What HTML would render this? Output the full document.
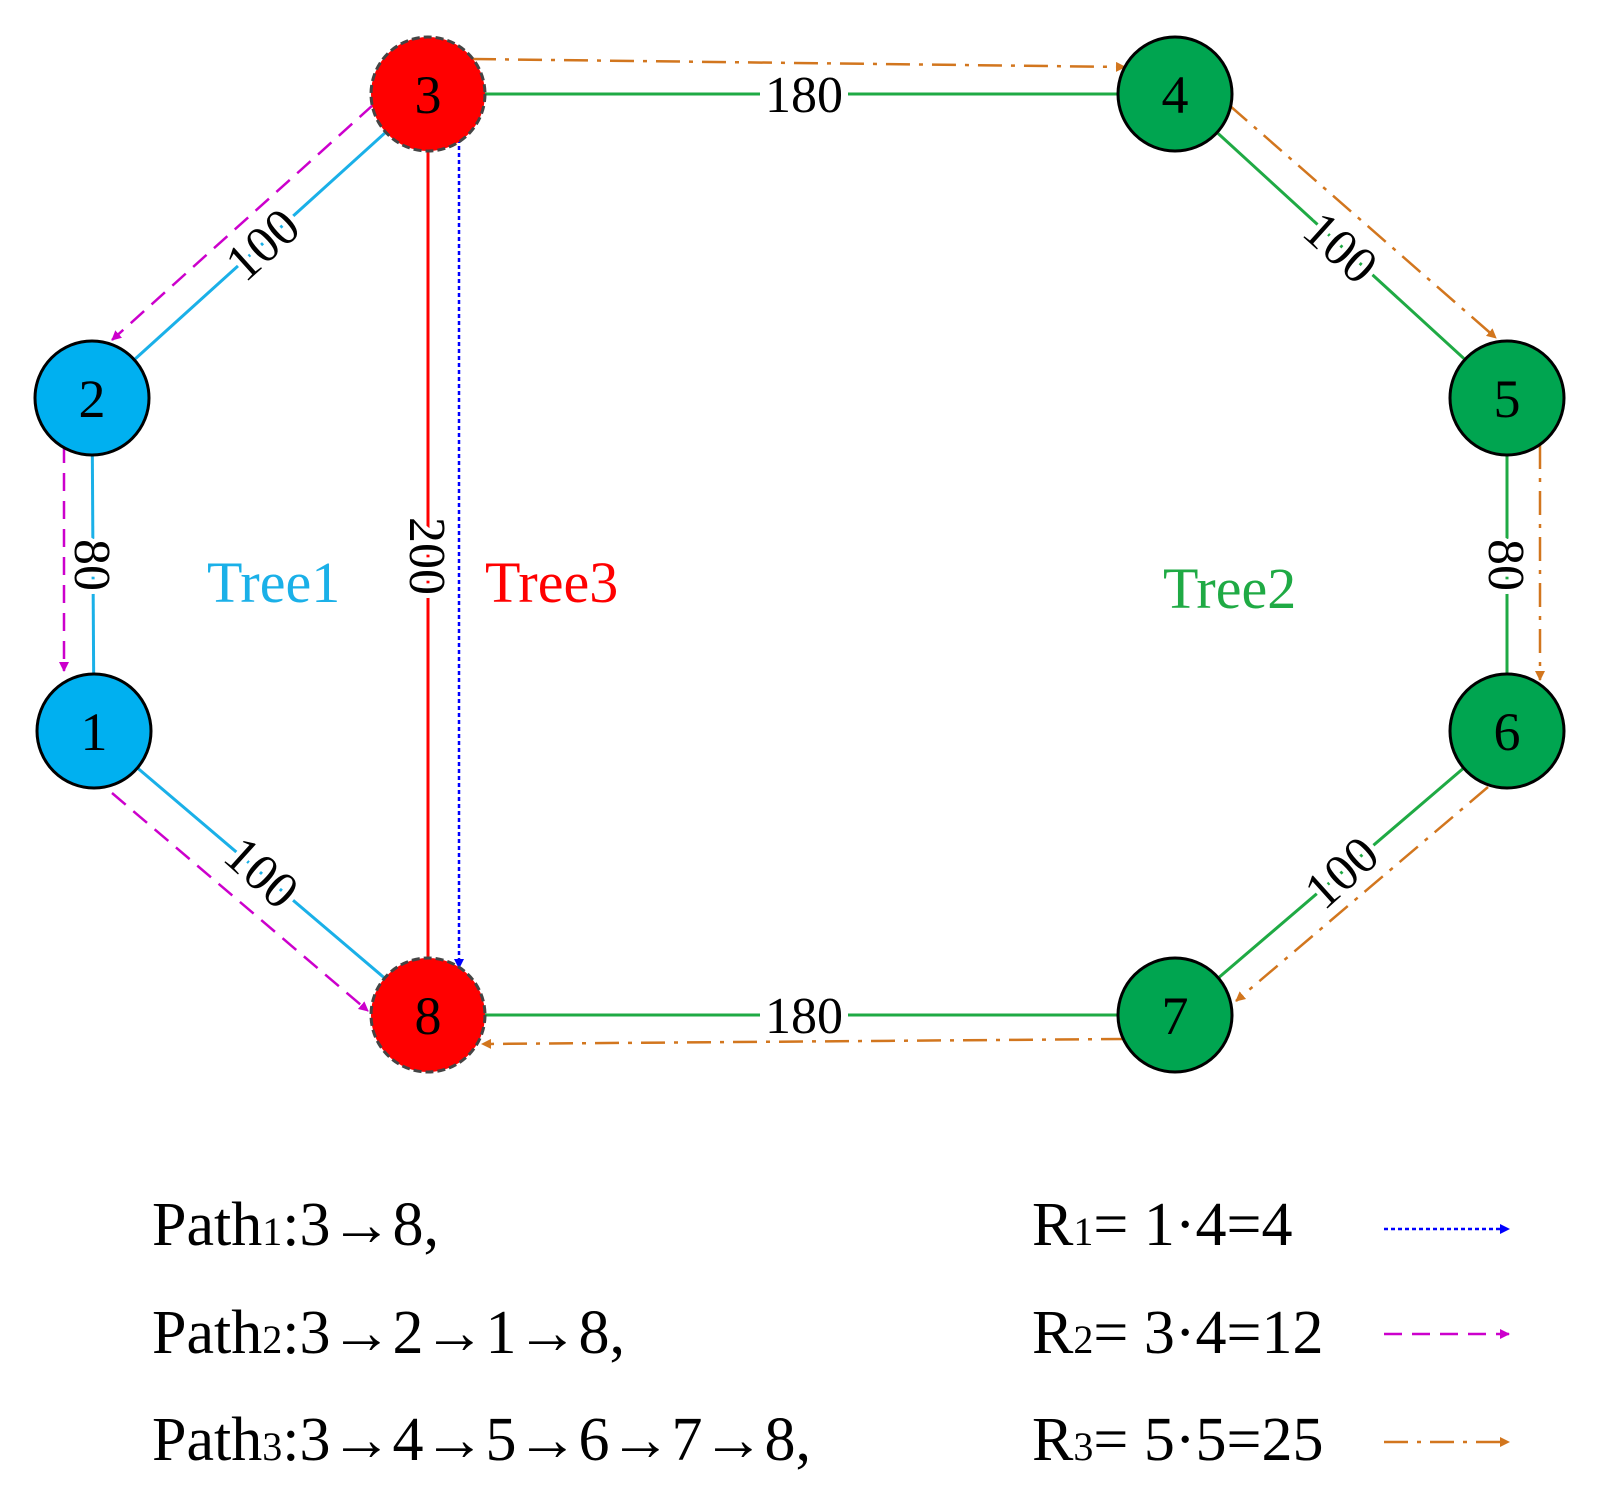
<!DOCTYPE html>
<html><head><meta charset="utf-8"><style>
html,body{margin:0;padding:0;background:#fff;}
svg{display:block;}
text{font-family:"Liberation Serif",serif;}
</style></head><body>
<svg width="1618" height="1495" viewBox="0 0 1618 1495" xmlns="http://www.w3.org/2000/svg">
<defs>
<marker id="am" markerWidth="10" markerHeight="10" refX="9" refY="5" orient="auto" markerUnits="userSpaceOnUse" viewBox="0 0 10 10"><path d="M0,0 L10,5 L0,10 z" fill="#cc00cc"/></marker>
<marker id="ab" markerWidth="10" markerHeight="10" refX="9" refY="5" orient="auto" markerUnits="userSpaceOnUse" viewBox="0 0 10 10"><path d="M0,0 L10,5 L0,10 z" fill="#0000ff"/></marker>
<marker id="ao" markerWidth="10" markerHeight="10" refX="9" refY="5" orient="auto" markerUnits="userSpaceOnUse" viewBox="0 0 10 10"><path d="M0,0 L10,5 L0,10 z" fill="#d2761e"/></marker>
</defs>
<g transform="scale(2.2)"></g>
<!-- edges -->
<g stroke-width="3" fill="none">
<line x1="428" y1="94" x2="92" y2="398" stroke="#1ab0e8"/>
<line x1="92" y1="398" x2="94" y2="731" stroke="#1ab0e8"/>
<line x1="94" y1="731" x2="428" y2="1015" stroke="#1ab0e8"/>
<line x1="428" y1="94" x2="428" y2="1015" stroke="#ff0000"/>
<line x1="428" y1="94" x2="1175" y2="94" stroke="#1faa44"/>
<line x1="1175" y1="94" x2="1507" y2="398" stroke="#1faa44"/>
<line x1="1507" y1="398" x2="1507" y2="731" stroke="#1faa44"/>
<line x1="1507" y1="731" x2="1175" y2="1015" stroke="#1faa44"/>
<line x1="1175" y1="1015" x2="428" y2="1015" stroke="#1faa44"/>
</g>
<!-- path arrows -->
<g fill="none" stroke-width="2.5">
<line x1="373" y1="105" x2="112" y2="340" stroke="#cc00cc" stroke-dasharray="18,10" marker-end="url(#am)"/>
<line x1="64" y1="445" x2="64" y2="671" stroke="#cc00cc" stroke-dasharray="18,10" marker-end="url(#am)"/>
<line x1="112" y1="793" x2="368" y2="1011" stroke="#cc00cc" stroke-dasharray="18,10" marker-end="url(#am)"/>
<line x1="459" y1="139" x2="459" y2="968" stroke="#0000ff" stroke-dasharray="4,3" marker-end="url(#ab)"/>
<g stroke="#d2761e" stroke-dasharray="24,9,4,9">
<line x1="472" y1="59" x2="1125" y2="67" marker-end="url(#ao)"/>
<line x1="1229" y1="105" x2="1496" y2="338" marker-end="url(#ao)"/>
<line x1="1540" y1="445" x2="1540" y2="680" marker-end="url(#ao)"/>
<line x1="1488" y1="787" x2="1236" y2="1001" marker-end="url(#ao)"/>
<line x1="1125" y1="1039" x2="482" y2="1044" marker-end="url(#ao)"/>
</g>
</g>
<!-- edge labels -->
<g font-size="52" text-anchor="middle">
<rect x="760" y="70" width="88" height="48" fill="#fff"/>
<text x="804" y="112">180</text>
<rect x="760" y="991" width="88" height="48" fill="#fff"/>
<text x="804" y="1033">180</text>
<text transform="translate(262,244) rotate(-42)" y="18" fill="#000" stroke="#fff" stroke-width="10" paint-order="stroke">100</text>
<text transform="translate(262,872) rotate(42)" y="18" stroke="#fff" stroke-width="10" paint-order="stroke">100</text>
<text transform="translate(1341,247) rotate(42)" y="18" stroke="#fff" stroke-width="10" paint-order="stroke">100</text>
<text transform="translate(1341,872) rotate(-42)" y="18" stroke="#fff" stroke-width="10" paint-order="stroke">100</text>
<text transform="translate(93,565) rotate(90)" y="18" stroke="#fff" stroke-width="10" paint-order="stroke">80</text>
<text transform="translate(1507,565) rotate(90)" y="18" stroke="#fff" stroke-width="10" paint-order="stroke">80</text>
<text transform="translate(428,556) rotate(90)" y="18" stroke="#fff" stroke-width="10" paint-order="stroke">200</text>
</g>
<!-- tree labels -->
<g font-size="58">
<text x="207" y="602" fill="#1ab0e8">Tree1</text>
<text x="485" y="602" fill="#ff0000">Tree3</text>
<text x="1163" y="608" fill="#1faa44">Tree2</text>
</g>
<!-- nodes -->
<g stroke-width="3">
<circle cx="92" cy="398" r="57" fill="#00b0f0" stroke="#000"/>
<circle cx="94" cy="731" r="57" fill="#00b0f0" stroke="#000"/>
<circle cx="1175" cy="94" r="57" fill="#00a550" stroke="#000"/>
<circle cx="1507" cy="398" r="57" fill="#00a550" stroke="#000"/>
<circle cx="1507" cy="731" r="57" fill="#00a550" stroke="#000"/>
<circle cx="1175" cy="1015" r="57" fill="#00a550" stroke="#000"/>
<circle cx="428" cy="94" r="57" fill="#ff0000" stroke="#444" stroke-dasharray="8,4"/>
<circle cx="428" cy="1015" r="57" fill="#ff0000" stroke="#444" stroke-dasharray="8,4"/>
</g>
<g font-size="54" text-anchor="middle">
<text x="92" y="417">2</text>
<text x="94" y="750">1</text>
<text x="428" y="113">3</text>
<text x="428" y="1034">8</text>
<text x="1175" y="113">4</text>
<text x="1507" y="417">5</text>
<text x="1507" y="750">6</text>
<text x="1175" y="1034">7</text>
</g>
<!-- legend -->
<g font-size="62">
<text x="152" y="1245">Path<tspan font-size="40">1</tspan>:3→8,</text>
<text x="152" y="1353">Path<tspan font-size="40">2</tspan>:3→2→1→8,</text>
<text x="152" y="1460">Path<tspan font-size="40">3</tspan>:3→4→5→6→7→8,</text>
<text x="1032" y="1245">R<tspan font-size="40">1</tspan>= 1·4=4</text>
<text x="1032" y="1353">R<tspan font-size="40">2</tspan>= 3·4=12</text>
<text x="1032" y="1460">R<tspan font-size="40">3</tspan>= 5·5=25</text>
</g>
<g stroke-width="2.5" fill="none">
<line x1="1384" y1="1229" x2="1509" y2="1229" stroke="#0000ff" stroke-dasharray="4,3" marker-end="url(#ab)"/>
<line x1="1384" y1="1334" x2="1509" y2="1334" stroke="#cc00cc" stroke-dasharray="18,10" marker-end="url(#am)"/>
<line x1="1384" y1="1442" x2="1509" y2="1442" stroke="#d2761e" stroke-dasharray="24,9,4,9" marker-end="url(#ao)"/>
</g>
</svg>
</body></html>
